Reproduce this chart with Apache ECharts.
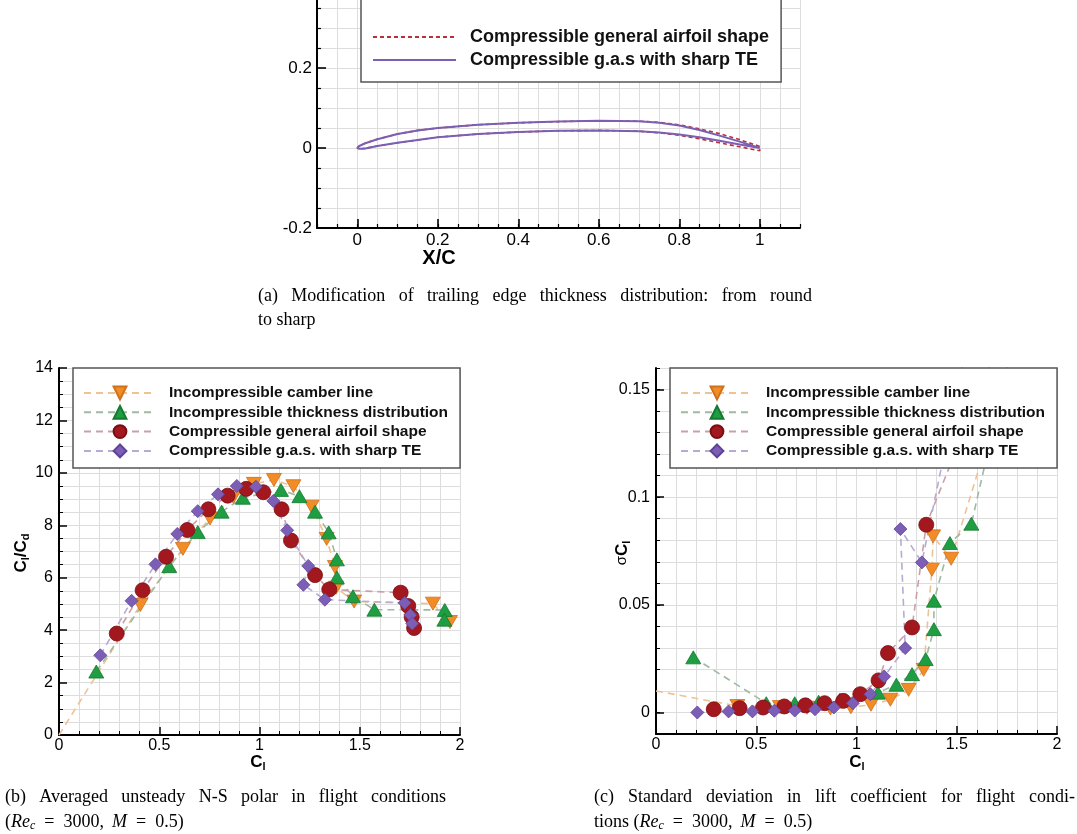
<!DOCTYPE html>
<html><head><meta charset="utf-8">
<script src="https://cdn.jsdelivr.net/npm/echarts@6/dist/echarts.min.js"></script>
<style>html,body{margin:0;padding:0;background:#fff;}#c{width:1077px;height:834px;}</style>
</head><body><div id="c"></div>
<script>
// ---------- (a) airfoil geometry ----------
const airfoilSharpX = [1.00,0.95,0.90,0.85,0.80,0.75,0.70,0.60,0.50,0.40,0.30,0.20,0.15,0.10,0.05,0.02,0.005,0.0,0.005,0.02,0.05,0.10,0.15,0.20,0.30,0.40,0.50,0.60,0.70,0.75,0.80,0.85,0.90,0.95,1.00];
const airfoilSharpY = [0.000,0.016,0.031,0.045,0.056,0.063,0.067,0.068,0.066,0.063,0.058,0.050,0.044,0.035,0.022,0.012,0.005,0.000,-0.002,-0.001,0.005,0.013,0.020,0.027,0.035,0.040,0.043,0.044,0.042,0.039,0.034,0.027,0.018,0.009,0.000];
const airfoilRoundX = [1.00,0.95,0.90,0.85,0.80,0.75,0.70,0.60,0.50,0.40,0.30,0.20,0.15,0.10,0.05,0.02,0.005,0.0,0.005,0.02,0.05,0.10,0.15,0.20,0.30,0.40,0.50,0.60,0.70,0.75,0.80,0.85,0.90,0.95,1.00,1.00];
const airfoilRoundY = [0.004,0.021,0.036,0.048,0.058,0.064,0.067,0.068,0.066,0.063,0.058,0.050,0.044,0.035,0.022,0.012,0.005,0.000,-0.002,-0.001,0.005,0.013,0.020,0.027,0.035,0.040,0.043,0.044,0.042,0.038,0.032,0.023,0.013,0.003,-0.007,0.004];
const xTicksA = [0,0.2,0.4,0.6,0.8,1];

// ---------- (b)/(c) polar data ----------
const camberCl  = [0, 0.406, 0.618, 0.753, 0.870, 0.972, 1.072, 1.169, 1.260, 1.335, 1.376, 1.382, 1.472, 1.865, 1.950];
const camberLD  = [0, 4.96, 7.10, 8.26, 9.08, 9.58, 9.73, 9.49, 8.71, 7.48, 6.41, 5.62, 5.09, 5.01, 4.31];
const camberSig = [0.0100, 0.0030, 0.0025, 0.0022, 0.0019, 0.0024, 0.0036, 0.0059, 0.0105, 0.0198, 0.0663, 0.0818, 0.0714, 0.19, 0.22];

const thickCl  = [0.186, 0.550, 0.692, 0.811, 0.917, 1.107, 1.199, 1.277, 1.345, 1.386, 1.386, 1.466, 1.573, 1.924, 1.922];
const thickLD  = [2.42, 6.44, 7.74, 8.52, 9.05, 9.35, 9.11, 8.52, 7.73, 6.70, 6.01, 5.29, 4.78, 4.77, 4.40];
const thickSig = [0.0256, 0.0043, 0.0043, 0.0050, 0.0059, 0.0092, 0.0129, 0.0178, 0.0248, 0.0387, 0.0519, 0.0787, 0.0877, 0.23, 0.26];

const genCl  = [0.288, 0.417, 0.534, 0.640, 0.745, 0.841, 0.934, 1.019, 1.110, 1.157, 1.277, 1.348, 1.704, 1.742, 1.759, 1.771];
const genLD  = [3.87, 5.52, 6.80, 7.82, 8.61, 9.13, 9.39, 9.26, 8.61, 7.42, 6.10, 5.55, 5.43, 4.92, 4.50, 4.08];
const genSig = [0.0015, 0.0020, 0.0023, 0.0028, 0.0033, 0.0043, 0.0054, 0.0085, 0.0149, 0.0276, 0.0395, 0.0872, 0.17, 0.20, 0.23, 0.26];

const sharpCl  = [0.206, 0.362, 0.481, 0.590, 0.692, 0.793, 0.887, 0.982, 1.069, 1.138, 1.243, 1.219, 1.326, 1.724, 1.752, 1.762];
const sharpLD  = [3.04, 5.12, 6.51, 7.67, 8.54, 9.18, 9.50, 9.47, 8.93, 7.81, 6.45, 5.73, 5.16, 5.04, 4.58, 4.25];
const sharpSig = [0.0000, 0.0005, 0.0005, 0.0008, 0.0009, 0.0015, 0.0023, 0.0043, 0.0085, 0.0167, 0.0299, 0.0852, 0.0697, 0.25, 0.30, 0.35];

const yTicksC = [0, 0.05, 0.1, 0.15];

const SANS = 'Liberation Sans', SERIF = 'Liberation Serif';
const GRID_LINE = {show:true, lineStyle:{color:'#dddddd', width:1}};
const AXLINE = {show:true, onZero:false, lineStyle:{color:'#000', width:2}};

const STY = {
  camber:{name:'Incompressible camber line', color:'#F28C26', border:'#d0701a', line:'#EDC294', symbol:'path://M0,0L10,0L5,9Z', size:[15,13]},
  thick:{name:'Incompressible thickness distribution', color:'#1F9D42', border:'#137a30', line:'#9FB9A2', symbol:'triangle', size:[15,13]},
  gen:{name:'Compressible general airfoil shape', color:'#A3171E', border:'#7a0e13', line:'#C9A0A5', symbol:'circle', size:15},
  sharp:{name:'Compressible g.a.s. with sharp TE', color:'#7D5EB7', border:'#5f4496', line:'#B7AAD5', symbol:'diamond', size:13}
};
function pairs(xs, ys){ return xs.map((x,i)=>[x, ys[i]]); }
function mk(key, xi, yi, xs, ys){
  const s = STY[key];
  const data = pairs(xs, ys);
  if (key === 'camber') data[0] = {value:data[0], symbol:'none'};
  return {type:'line', name:s.name, xAxisIndex:xi, yAxisIndex:yi, data, symbol:s.symbol, symbolSize:s.size,
    showSymbol:true, clip:true, animation:false, silent:true,
    itemStyle:{color:s.color, borderColor:s.border, borderWidth:0.8},
    lineStyle:{color:s.line, width:1.6, type:[7,5]}, emphasis:{disabled:true}};
}

function justified(text, x0, x1, y, size){
  const ctx = document.createElement('canvas').getContext('2d');
  ctx.font = size + 'px "' + SERIF + '"';
  const words = text.split(' ');
  const w = words.map(t=>ctx.measureText(t).width);
  const gap = (x1 - x0 - w.reduce((a,b)=>a+b,0)) / (words.length - 1);
  let x = x0; const out = [];
  words.forEach((t,i)=>{ out.push({type:'text', x:x, y:y, style:{text:t, fontSize:size, fontFamily:SERIF, fill:'#000', align:'left', verticalAlign:'middle'}}); x += w[i] + gap; });
  return out;
}
function richLine(text, x, y, size){
  return {type:'text', x:x, y:y, style:{text:text, fill:'#000', align:'left', verticalAlign:'middle', fontSize:size, fontFamily:SERIF,
    rich:{
      n:{fontSize:size, fontFamily:SERIF, lineHeight:20, verticalAlign:'middle', fill:'#000'},
      i:{fontSize:size, fontFamily:SERIF, fontStyle:'italic', lineHeight:20, verticalAlign:'middle', fill:'#000'},
      s:{fontSize:12, fontFamily:SERIF, fontStyle:'italic', lineHeight:12, verticalAlign:'bottom', fill:'#000'}
    }}};
}
function axisName(text, x, y, rot){
  return {type:'text', x:x, y:y, rotation:rot||0, style:{text:text, fill:'#000', align:'center', verticalAlign:'middle',
    rich:{
      b:{fontSize:17, fontFamily:SANS, fontWeight:'bold', lineHeight:20, verticalAlign:'middle', fill:'#000'},
      r:{fontSize:15, fontFamily:SANS, lineHeight:20, verticalAlign:'middle', fill:'#000'},
      s:{fontSize:11, fontFamily:SANS, fontWeight:'bold', lineHeight:12, verticalAlign:'bottom', fill:'#000'}
    }}};
}

const CAP = 18;
const EQ = '\u2002=\u2002';
const graphics = [].concat(
  [{type:'text', x:439, y:258, style:{text:'X/C', fontSize:20, fontWeight:'bold', fontFamily:SANS, fill:'#000', align:'center', verticalAlign:'middle'}}],
  justified('(a) Modification of trailing edge thickness distribution: from round', 258, 812, 296, CAP),
  [{type:'text', x:258, y:320, style:{text:'to sharp', fontSize:CAP, fontFamily:SERIF, fill:'#000', align:'left', verticalAlign:'middle'}}],
  justified('(b) Averaged unsteady N-S polar in flight conditions', 5, 446, 797, CAP),
  [richLine('{n|(}{i|Re}{s|c}{n|' + EQ + '3000,\u2009 }{i|M}{n|' + EQ + '0.5)}', 5, 822, CAP)],
  justified('(c) Standard deviation in lift coefficient for flight condi-', 594, 1075, 797, CAP),
  [richLine('{n|tions (}{i|Re}{s|c}{n|' + EQ + '3000,\u2009 }{i|M}{n|' + EQ + '0.5)}', 594, 822, CAP)],
  [axisName('{b|C}{s|l}{b|/C}{s|d}', 21, 553, Math.PI/2),
   axisName('{b|C}{s|l}', 258, 762, 0),
   axisName('{r|σ}{b|C}{s|l}', 622, 553, Math.PI/2),
   axisName('{b|C}{s|l}', 857, 762, 0)]
);

const LABEL_A = {airfoilRound:'Compressible general airfoil shape', airfoilSharp:'Compressible g.a.s with sharp TE'};
function legendBC(left){
  return {orient:'vertical', left:left, top:368, padding:[17,12,9,10], itemGap:3.3, itemWidth:72, itemHeight:16,
    textStyle:{fontSize:15.5, fontWeight:'bold', fontFamily:SANS, color:'#111', lineHeight:16, padding:[0,0,0,8]},
    backgroundColor:'#fff', borderColor:'#555', borderWidth:1.5, borderRadius:0, selectedMode:false,
    data:[STY.camber.name, STY.thick.name, STY.gen.name, STY.sharp.name]};
}

const option = {
  animation:false,
  backgroundColor:'#fff',
  textStyle:{fontFamily:SANS},
  graphic: graphics,
  grid:[
    {left:317, top:-12, width:483, height:240, outerBoundsMode:'none', containLabel:false},
    {left:59, top:368, width:401, height:367, outerBoundsMode:'none', containLabel:false},
    {left:656, top:368, width:401, height:366, outerBoundsMode:'none', containLabel:false}
  ],
  legend:[
    {orient:'vertical', left:361, top:-10, padding:[37,12,12,11], itemGap:3, itemWidth:83, itemHeight:14,
     textStyle:{fontSize:18, fontWeight:'bold', fontFamily:SANS, color:'#111', lineHeight:20, padding:[0,0,0,9]},
     itemStyle:{opacity:0},
     backgroundColor:'#fff', borderColor:'#555', borderWidth:1.5, borderRadius:0, selectedMode:false,
     formatter:n=>LABEL_A[n], data:['airfoilRound','airfoilSharp']},
    legendBC(73),
    legendBC(670)
  ],
  xAxis:[
    {gridIndex:0, type:'value', min:-0.1, max:1.1, interval:0.05, axisLine:AXLINE,
     axisTick:{show:true, inside:true, length:4, lineStyle:{color:'#000', width:1.2}}, axisLabel:{show:false}, splitLine:GRID_LINE},
    {gridIndex:0, type:'value', min:-0.1, max:1.1, interval:0.05, position:'bottom', axisLine:{show:false, onZero:false},
     axisTick:{show:true, inside:true, length:9, customValues:xTicksA, lineStyle:{color:'#000', width:1.6}},
     axisLabel:{show:true, customValues:xTicksA, fontSize:17, color:'#000', margin:4, fontFamily:SANS}, splitLine:{show:false}},
    {gridIndex:1, type:'value', min:0, max:2, interval:0.5, axisLine:AXLINE,
     axisTick:{show:true, inside:true, length:8, lineStyle:{color:'#000', width:1.5}},
     minorTick:{show:true, splitNumber:5, length:4, lineStyle:{color:'#000', width:1}},
     minorSplitLine:GRID_LINE, splitLine:GRID_LINE,
     axisLabel:{fontSize:16, color:'#000', margin:3, fontFamily:SANS}},
    {gridIndex:2, type:'value', min:0, max:2, interval:0.5, axisLine:AXLINE,
     axisTick:{show:true, inside:true, length:8, lineStyle:{color:'#000', width:1.5}},
     minorTick:{show:true, splitNumber:5, length:4, lineStyle:{color:'#000', width:1}},
     minorSplitLine:GRID_LINE, splitLine:GRID_LINE,
     axisLabel:{fontSize:16, color:'#000', margin:3, fontFamily:SANS}}
  ],
  yAxis:[
    {gridIndex:0, type:'value', min:-0.2, max:0.4, interval:0.2, axisLine:AXLINE,
     axisTick:{show:true, inside:true, length:9, lineStyle:{color:'#000', width:1.6}},
     minorTick:{show:true, splitNumber:4, length:4, lineStyle:{color:'#000', width:1.2}},
     minorSplitLine:GRID_LINE, splitLine:GRID_LINE,
     axisLabel:{fontSize:17, color:'#000', margin:5, fontFamily:SANS}},
    {gridIndex:1, type:'value', min:0, max:14, interval:2, axisLine:AXLINE,
     axisTick:{show:true, inside:true, length:8, lineStyle:{color:'#000', width:1.5}},
     minorTick:{show:true, splitNumber:4, length:4, lineStyle:{color:'#000', width:1}},
     minorSplitLine:GRID_LINE, splitLine:GRID_LINE,
     axisLabel:{fontSize:16, color:'#000', margin:6, fontFamily:SANS}},
    {gridIndex:2, type:'value', min:-0.01, max:0.16, interval:0.01, axisLine:AXLINE,
     axisTick:{show:true, inside:true, length:4, lineStyle:{color:'#000', width:1}}, axisLabel:{show:false}, splitLine:GRID_LINE},
    {gridIndex:2, type:'value', min:-0.01, max:0.16, interval:0.01, position:'left', axisLine:{show:false, onZero:false},
     axisTick:{show:true, inside:true, length:8, customValues:yTicksC, lineStyle:{color:'#000', width:1.5}},
     axisLabel:{show:true, customValues:yTicksC, fontSize:16, color:'#000', margin:6, fontFamily:SANS}, splitLine:{show:false}}
  ],
  series:[
    {type:'line', name:'airfoilRound', xAxisIndex:0, yAxisIndex:0, data:pairs(airfoilRoundX, airfoilRoundY), symbol:'none', silent:true,
     lineStyle:{color:'#B8313A', width:1.6, type:[4,3]}},
    {type:'line', name:'airfoilSharp', xAxisIndex:0, yAxisIndex:0, data:pairs(airfoilSharpX, airfoilSharpY), symbol:'none', silent:true,
     lineStyle:{color:'#7C5FB3', width:2, type:'solid'}},
    mk('camber', 2, 1, camberCl, camberLD),
    mk('thick', 2, 1, thickCl, thickLD),
    mk('gen', 2, 1, genCl, genLD),
    mk('sharp', 2, 1, sharpCl, sharpLD),
    mk('camber', 3, 2, camberCl, camberSig),
    mk('thick', 3, 2, thickCl, thickSig),
    mk('gen', 3, 2, genCl, genSig),
    mk('sharp', 3, 2, sharpCl, sharpSig)
  ]
};
const chart = echarts.init(document.getElementById('c'), null, {renderer:'canvas', width:1077, height:834});
chart.setOption(option);
</script></body></html>
